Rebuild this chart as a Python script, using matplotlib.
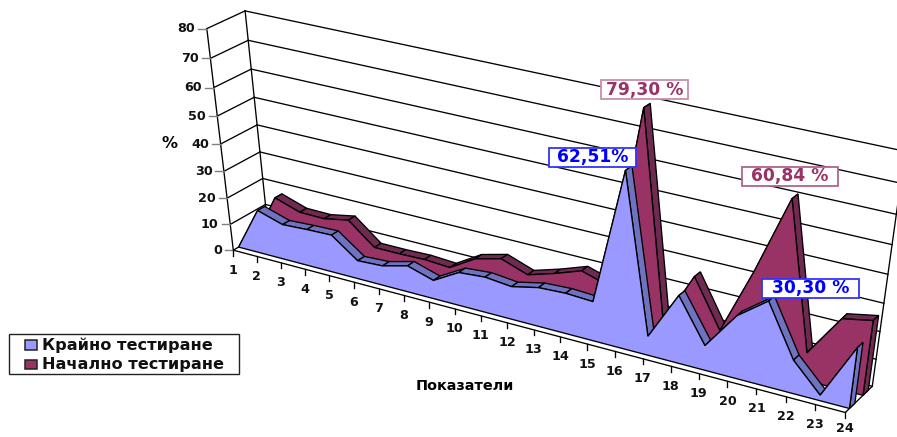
import numpy as np
import matplotlib
matplotlib.use("Agg")
import matplotlib.pyplot as plt
from matplotlib.patches import Polygon, Rectangle

# Survey results per indicator, in percent
indicators = list(range(1, 25))
final_test = [0, 16.5, 13.5, 14, 14.3, 7, 7.5, 10, 7, 12.5, 13.3, 12.3, 14.5, 15, 14.5,
              62.51, 7, 24.5, 9, 22.5, 30.30, 12, 2, 22]
initial_test = [0, 17.5, 14.3, 14.2, 16, 8, 8, 8.3, 7.7, 13.5, 16, 12.5, 15.5, 19, 16,
                79.30, 8, 27, 10, 34, 60.84, 10, 25, 27]
y_ticks = list(range(0, 90, 10))

series_names = ["Крайно тестиране", "Начално тестиране"]
BLUE, BLUE_TOP = "#9999FF", "#6F73BF"
MAROON, MAROON_TOP = "#993366", "#6E2A50"
FRONT_SPAN = (0.15, 0.35)
BACK_SPAN = (0.65, 0.85)

# Camera: least-squares projective map from (indicator, percent, depth) to pixels
camera_pairs = [
    ((1, 0, 0), (233.3, 250)), ((1, 40, 0), (221, 144)), ((1, 80, 0), (206.7, 28.7)),
    ((1, 0, 1), (268.3, 229)), ((1, 40, 1), (257.3, 125)), ((1, 80, 1), (245, 10.7)),
    ((6, 0, 0), (353.3, 283)), ((14, 0, 0), (560, 338)), ((24, 0, 0), (846, 410.5)),
    ((24, 0, 1), (872, 387)), ((24, 40, 1), (888, 275)), ((24, 80, 1), (905, 151)),
]


def fit_camera(pairs):
    rows, rhs = [], []
    for (x, y, z), (u, v) in pairs:
        rows.append([x, y, z, 1, 0, 0, 0, 0, -u * x, -u * y, -u * z])
        rhs.append(u)
        rows.append([0, 0, 0, 0, x, y, z, 1, -v * x, -v * y, -v * z])
        rhs.append(v)
    coef = np.linalg.lstsq(np.array(rows, float), np.array(rhs, float), rcond=None)[0]
    return np.append(coef, 1.0).reshape(3, 4)


CAM = fit_camera(camera_pairs)


def project(x, y, z):
    h = CAM @ np.array([x, y, z, 1.0])
    return h[0] / h[2], h[1] / h[2]


fig = plt.figure(figsize=(8.97, 4.37), dpi=100)
ax = fig.add_axes([0, 0, 1, 1])
ax.set_xlim(0, 897)
ax.set_ylim(437, 0)
ax.axis("off")
plt.rcParams["font.family"] = ["DejaVu Sans"]

x0, x1 = indicators[0], indicators[-1]
y_top = y_ticks[-1]


def line3(a, b, color="black", lw=0.95, z=1):
    pa, pb = project(*a), project(*b)
    ax.plot([pa[0], pb[0]], [pa[1], pb[1]], color=color, lw=lw, zorder=z,
            solid_capstyle="projecting")


# Gridlines on the side and back walls, then the wall and floor edges
for v in y_ticks:
    line3((x0, v, 0), (x0, v, 1))
    line3((x0, v, 1), (x1, v, 1))
line3((x0, 0, 0), (x0, y_top, 0))
line3((x0, 0, 1), (x0, y_top, 1))
line3((x1, 0, 1), (x1, y_top, 1))
line3((x0, 0, 0), (x1, 0, 0))
line3((x1, 0, 0), (x1, 0, 1))


def draw_area(values, span, face, top, z):
    d0, d1 = span
    for i in range(len(values) - 1):
        xa, xb = indicators[i], indicators[i + 1]
        quad = [project(xa, values[i], d0), project(xb, values[i + 1], d0),
                project(xb, values[i + 1], d1), project(xa, values[i], d1)]
        ax.add_patch(Polygon(quad, closed=True, fc=top, ec="black", lw=0.95, zorder=z))
    cap = [project(x1, 0, d0), project(x1, values[-1], d0),
           project(x1, values[-1], d1), project(x1, 0, d1)]
    ax.add_patch(Polygon(cap, closed=True, fc=top, ec="black", lw=0.95, zorder=z))
    outline = [project(x, v, d0) for x, v in zip(indicators, values)]
    outline += [project(x1, 0, d0), project(x0, 0, d0)]
    ax.add_patch(Polygon(outline, closed=True, fc=face, ec="black", lw=0.95, zorder=z + 0.5))


draw_area(initial_test, BACK_SPAN, MAROON, MAROON_TOP, 3)
draw_area(final_test, FRONT_SPAN, BLUE, BLUE_TOP, 5)

# Axis ticks and their labels
tick_font = dict(fontsize=9.2, fontweight="bold", color="#111111", zorder=8)
for v in y_ticks:
    u, w = project(x0, v, 0)
    ax.plot([u - 8.5, u], [w, w], color="#808080", lw=1.0, zorder=2)
    ax.text(u - 11.5, w, str(v), ha="right", va="center", **tick_font)
for i in indicators:
    u, w = project(i, 0, 0)
    ax.plot([u, u], [w, w + 5.5], color="black", lw=0.95, zorder=2)
    ax.text(u, min(w + 20, 429), str(i), ha="center", va="center", **tick_font)

ax.text(170, 143, "%", ha="center", va="center", fontsize=11.5, fontweight="bold", zorder=8)
ax.text(465, 385.5, "Показатели", ha="center", va="center", fontsize=10.4, fontweight="bold", zorder=8)


# Callouts for the extreme values
def callout(cx, cy, w, h, text, color, edge):
    ax.add_patch(Rectangle((cx - w / 2, cy - h / 2), w, h, fc="white", ec=edge, lw=1.3, zorder=9))
    ax.text(cx, cy, text, ha="center", va="center", color=color,
            fontsize=12.3, fontweight="bold", zorder=10)


callout(592.5, 157, 87, 19, "62,51%", "#0000FF", "#3333FF")
callout(644.5, 89.5, 87, 19, "79,30 %", "#993366", "#C78FAB")
callout(790, 176, 96, 19, "60,84 %", "#993366", "#B0648A")
callout(810.5, 288, 97, 19, "30,30 %", "#0000FF", "#3333FF")

# Legend
ax.add_patch(Rectangle((9, 333.5), 229.5, 40, fc="white", ec="#222222", lw=1.0, zorder=9))
for name, color, y in zip(series_names, [BLUE, MAROON], [345, 364.5]):
    ax.add_patch(Rectangle((25, y - 4.7), 12, 9.4, fc=color, ec="#222222", lw=1.1, zorder=10))
    ax.text(42, y, name, ha="left", va="center", fontsize=11.6, fontweight="bold",
            color="#111111", zorder=10)

fig.savefig("out.png", dpi=100)
